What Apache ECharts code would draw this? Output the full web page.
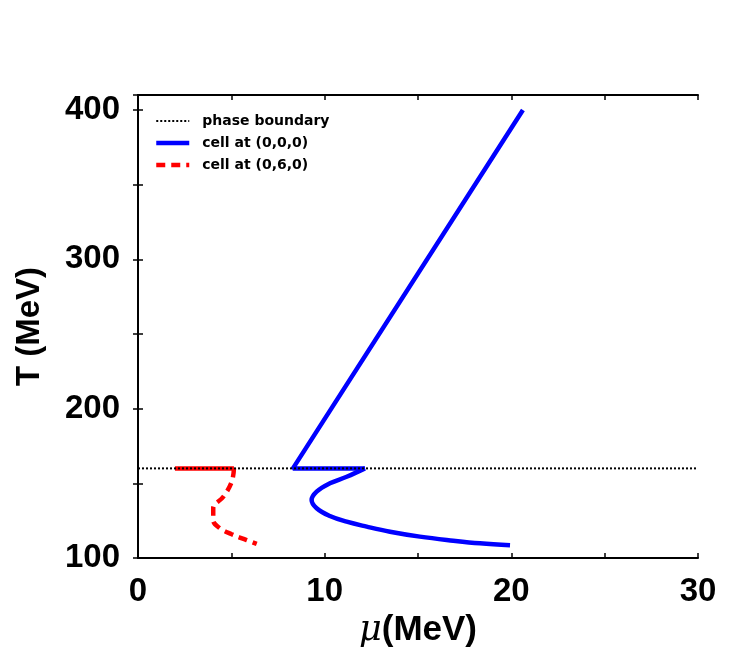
<!DOCTYPE html>
<html>
<head>
<meta charset="utf-8">
<script src="https://cdn.jsdelivr.net/npm/echarts@6/dist/echarts.min.js"></script>
<style>html,body{margin:0;padding:0;background:#fff;}#c{width:747px;height:654px;}</style>
</head>
<body>
<div id="c"></div>
<script>
// ---- data ----
const xTickLabels = [0, 10, 20, 30];
const yTickLabels = [100, 200, 300, 400];
const seriesNames = ['phase boundary', 'cell at (0,0,0)', 'cell at (0,6,0)'];
const phaseMu = [0, 30];
const phaseT = [160, 160];
const cell000UpperMu = [20.62, 8.30, 12.16];
const cell000UpperT  = [400, 160, 160];
const cell000LowerMu = [12.16, 11.18, 10.28, 9.57, 9.30, 9.57, 10.28, 11.18, 12.25, 13.50, 15.10, 16.89, 18.32, 19.93];
const cell000LowerT  = [160, 154.4, 150, 144.4, 138.8, 133.3, 128.1, 124.3, 121, 117.6, 114.3, 111.6, 109.8, 108.5];
const cell060FlatMu = [1.98, 5.14];
const cell060FlatT = [160, 160];
const cell060Mu = [5.14, 5.02, 4.57, 4.03, 4.03, 4.39, 5.02, 5.82, 6.36];
const cell060T  = [160, 151, 141, 133.3, 125.4, 119.9, 115.9, 112, 109.4];

const zip = (a, b) => a.map((v, i) => [v, b[i]]);

const chart = echarts.init(document.getElementById('c'), null, {renderer: 'canvas'});
const labelFont = {fontFamily: 'Liberation Sans', fontWeight: 'bold', fontSize: 33, color: '#000'};
const axisLine = {show: true, lineStyle: {color: '#000', width: 2}};
const axisTick = {show: true, inside: true, length: 5, lineStyle: {color: '#000', width: 1.5}};

chart.setOption({
  animation: false,
  backgroundColor: '#fff',
  grid: {left: 138, right: 49, top: 95, bottom: 96, containLabel: false},
  legend: {
    data: seriesNames,
    orient: 'vertical',
    left: 154,
    top: 114,
    padding: 0,
    itemWidth: 33,
    itemHeight: 14,
    itemGap: 8,
    itemStyle: {opacity: 0},
    lineStyle: {width: 'inherit', type: 'inherit'},
    textStyle: {fontFamily: 'DejaVu Sans', fontWeight: 'bold', fontSize: 14, color: '#000', padding: [0, 0, 0, 8]}
  },
  xAxis: [{
    type: 'value', min: 0, max: 30, interval: 5, position: 'bottom',
    name: '{mu|μ}{b|(MeV)}', nameLocation: 'middle', nameGap: 55,
    nameTextStyle: {rich: {
      mu: {fontFamily: 'DejaVu Serif', fontStyle: 'italic', fontSize: 35, color: '#000'},
      b: {fontFamily: 'Liberation Sans', fontWeight: 'bold', fontSize: 35, color: '#000'}
    }},
    axisLine: axisLine, axisTick: axisTick, splitLine: {show: false},
    axisLabel: Object.assign({margin: 17, formatter: v => xTickLabels.includes(v) ? String(v) : ''}, labelFont)
  }, {
    type: 'value', min: 0, max: 30, interval: 5, position: 'top',
    axisLine: axisLine, axisTick: axisTick, splitLine: {show: false}, axisLabel: {show: false}
  }],
  yAxis: [{
    type: 'value', min: 100, max: 410, interval: 50, position: 'left',
    name: 'T (MeV)', nameLocation: 'middle', nameGap: 92, nameRotate: 90,
    nameTextStyle: labelFont,
    axisLine: axisLine, axisTick: axisTick, splitLine: {show: false},
    axisLabel: Object.assign({margin: 18, formatter: v => yTickLabels.includes(v) ? String(v) : ''}, labelFont)
  }, {
    type: 'value', min: 100, max: 410, interval: 50, position: 'right',
    axisLine: axisLine, axisTick: axisTick, splitLine: {show: false}, axisLabel: {show: false}
  }],
  series: [
    {
      name: seriesNames[1], type: 'line', data: zip(cell000UpperMu, cell000UpperT), symbol: 'none',
      lineStyle: {color: '#0000ff', width: 4.5}, itemStyle: {color: '#0000ff'}, z: 3
    },
    {
      name: seriesNames[1], type: 'line', data: zip(cell000LowerMu, cell000LowerT), symbol: 'none', smooth: 0.4,
      lineStyle: {color: '#0000ff', width: 4.5}, itemStyle: {color: '#0000ff'}, z: 3
    },
    {
      name: 'cell060flat', type: 'line', data: zip(cell060FlatMu, cell060FlatT), symbol: 'none',
      lineStyle: {color: '#ff0000', width: 4.5}, itemStyle: {color: '#ff0000'}, z: 3
    },
    {
      name: seriesNames[2], type: 'line', data: zip(cell060Mu, cell060T), symbol: 'none', smooth: 0.4,
      lineStyle: {color: '#ff0000', width: 4.5, type: [9, 6]}, itemStyle: {color: '#ff0000'}, z: 3
    },
    {
      name: seriesNames[0], type: 'line', data: zip(phaseMu, phaseT), symbol: 'none',
      lineStyle: {color: '#000', width: 2, type: [2, 2]}, itemStyle: {color: '#000'}, z: 5
    }
  ]
});
</script>
</body>
</html>
